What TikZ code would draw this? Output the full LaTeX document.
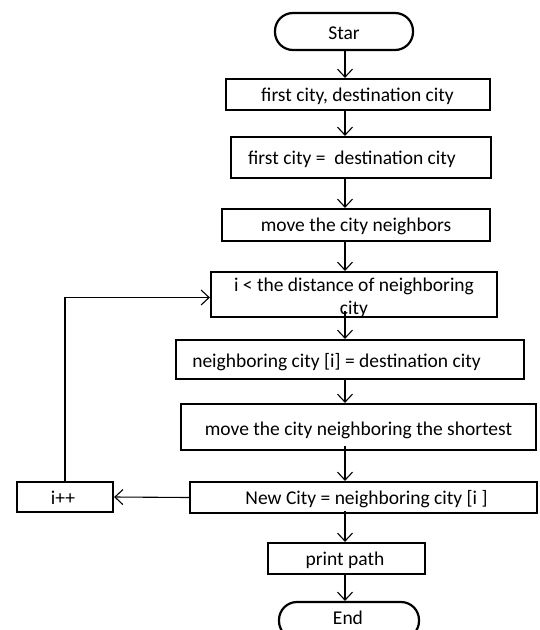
\documentclass[tikz,border=0pt]{standalone}
\usepackage{fontspec}
\setmainfont{Carlito}
\usetikzlibrary{arrows.meta}
\begin{document}
\begin{tikzpicture}[x=1pt,y=-1pt,
  box/.style={draw,line width=2.2pt,inner sep=0pt,rectangle},
  term/.style={draw,line width=2.2pt,inner sep=0pt,rectangle,rounded corners=18pt},
  txt/.style={inner sep=0pt,font=\fontsize{19.5}{23}\selectfont,align=center},
  conn/.style={line width=1.1pt,-{Straight Barb[length=8pt,width=15pt,line width=1.1pt]}}]
\useasboundingbox (0,0) rectangle (540,630);
\clip (0,0) rectangle (540,630);
\coordinate (spine) at (345,0);
% boxes
\node[term,minimum width=138pt,minimum height=37pt] (start) at (344,31.5) {};
\node[txt] (startt) at (344,33) {Star};
\node[box,minimum width=264pt,minimum height=31pt] (b1) at (358,94.5) {};
\node[txt] (b1t) at (357.5,96) {first city, destination city};
\node[box,minimum width=260pt,minimum height=41pt] (b2) at (361,157.5) {};
\node[txt] (b2t) at (352,159) {first city = \ destination city};
\node[box,minimum width=268pt,minimum height=32pt] (b3) at (356,225) {};
\node[txt] (b3t) at (356,226) {move the city neighbors};
\node[box,minimum width=286pt,minimum height=45pt] (b4) at (354,294.5) {};
\node[txt] (b4t) at (354,298) {i < the distance of neighboring\\city};
\node[box,minimum width=348pt,minimum height=39pt] (b5) at (350,359.5) {};
\node[txt] (b5t) at (336.5,362) {neighboring city [i] = destination city};
\node[box,minimum width=355pt,minimum height=46pt] (b6) at (358.5,427) {};
\node[txt] (b6t) at (358.5,430) {move the city neighboring the shortest};
\node[box,minimum width=347pt,minimum height=31pt] (b7) at (363.5,497.5) {};
\node[txt] (b7t) at (366.5,499) {New City = neighboring city [i ]};
\node[box,minimum width=96pt,minimum height=30pt] (inc) at (65,497) {};
\node[txt] (inct) at (63,498) {i++};
\node[box,minimum width=157pt,minimum height=31pt] (pp) at (346.5,558.5) {};
\node[txt] (ppt) at (345,560) {print path};
\node[term,minimum width=140pt,minimum height=37pt] (end) at (349,620.5) {};
\node[txt] (endt) at (348,618) {End};
% connectors
\draw[conn] (start.south -| spine) -- (b1.north -| spine);
\draw[conn] (b1.south -| spine) -- (b2.north -| spine);
\draw[conn] (b2.south -| spine) -- (b3.north -| spine);
\draw[conn] (b3.south -| spine) -- (b4.north -| spine);
\draw[conn] ([yshift=7pt]b4.south -| spine) -- (b5.north -| spine);
\draw[conn] (b5.south -| spine) -- (b6.north -| spine);
\draw[conn] ([yshift=5pt]b6.south -| spine) -- (b7.north -| spine);
\draw[conn] ([yshift=3pt]b7.south -| spine) -- (pp.north -| spine);
\draw[conn] (pp.south -| spine) -- (end.north -| spine);
\draw[conn] (b7.west) -- (inc.east);
\draw[conn] (inc.north) |- ([yshift=-3pt]b4.west);
\end{tikzpicture}
\end{document}
